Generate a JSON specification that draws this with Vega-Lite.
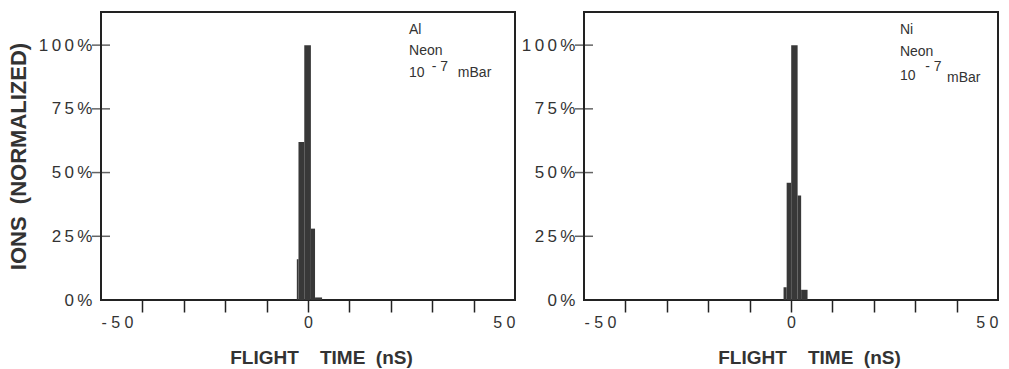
{
  "$schema": "https://vega.github.io/schema/vega-lite/v6.json",
  "background": "white",
  "padding": {"left": 6, "top": 11, "right": 5, "bottom": 0},
  "spacing": 4,
  "config": {
    "view": {"stroke": "#222", "strokeWidth": 2},
    "font": "Liberation Sans",
    "axis": {"grid": false, "domain": false, "labelColor": "#333", "titleColor": "#333", "tickColor": "#222"}
  },
  "datasets": {
    "al_bins": [
      {"start": -2.7, "end": -2.3, "ions": 16},
      {"start": -2.3, "end": -0.9, "ions": 62},
      {"start": -0.9, "end": 0.7, "ions": 100},
      {"start": 0.7, "end": 1.7, "ions": 28},
      {"start": 1.7, "end": 3.4, "ions": 1}
    ],
    "ni_bins": [
      {"start": -1.8, "end": -1.05, "ions": 5},
      {"start": -1.05, "end": 0.05, "ions": 46},
      {"start": 0.05, "end": 1.6, "ions": 100},
      {"start": 1.6, "end": 2.45, "ions": 41},
      {"start": 2.45, "end": 4.0, "ions": 4}
    ],
    "al_info": [{"element": "Al", "gas": "Neon", "base": "10", "exponent": "- 7", "unit": "mBar"}],
    "ni_info": [{"element": "Ni", "gas": "Neon", "base": "10", "exponent": "- 7", "unit": "mBar"}],
    "y_ticks": [{"ions": 25}, {"ions": 50}, {"ions": 75}, {"ions": 100}]
  },
  "hconcat": [
    {
      "width": 414,
      "height": 288,
      "layer": [
        {
          "data": {"name": "al_bins"},
          "mark": {"type": "rect", "color": "#383838"},
          "encoding": {
            "x": {
              "field": "start", "type": "quantitative",
              "scale": {"domain": [-50, 50], "nice": false},
              "axis": {
                "values": [-50, -40, -30, -20, -10, 0, 10, 20, 30, 40, 50],
                "labelExpr": "datum.value == -50 ? '- 5 0' : datum.value == 0 ? '0' : datum.value == 50 ? '5 0' : ''",
                "labelFlush": true, "labelOverlap": false,
                "labelFontSize": 16, "labelPadding": 2,
                "tickSize": 12, "tickWidth": 1.5,
                "tickOpacity": {"condition": {"test": "abs(datum.value) == 50", "value": 0}, "value": 1},
                "title": "FLIGHT\u00a0\u00a0\u00a0\u00a0TIME\u00a0\u00a0(nS)", "titleFontSize": 19, "titleFontWeight": "bold",
                "titlePadding": 18, "titleX": 220
              }
            },
            "x2": {"field": "end"},
            "y": {
              "field": "ions", "type": "quantitative",
              "scale": {"domain": [0, 113], "nice": false},
              "axis": {
                "values": [0, 25, 50, 75, 100],
                "labelExpr": "datum.value == 100 ? '1\u20090\u20090\u2009%' : datum.value == 75 ? '7\u20095\u2009%' : datum.value == 50 ? '5\u20090\u2009%' : datum.value == 25 ? '2\u20095\u2009%' : '0\u2009%'",
                "labelFontSize": 17, "labelPadding": 9, "ticks": false,
                "title": "IONS\u00a0\u00a0(NORMALIZED)", "titleFontSize": 22, "titleFontWeight": "bold", "titlePadding": 8
              }
            },
            "y2": {"datum": 0}
          }
        },
        {
          "data": {"name": "y_ticks"},
          "mark": {"type": "tick", "orient": "horizontal", "size": 18, "thickness": 1.5, "color": "#222"},
          "encoding": {
            "x": {"datum": -50, "type": "quantitative"},
            "y": {"field": "ions", "type": "quantitative"}
          }
        },
        {
          "data": {"name": "al_info"},
          "mark": {"type": "text", "align": "left", "baseline": "alphabetic", "fontSize": 14, "color": "#333"},
          "encoding": {"x": {"datum": 24.4, "type": "quantitative"}, "y": {"datum": 104.2, "type": "quantitative"}, "text": {"field": "element"}}
        },
        {
          "data": {"name": "al_info"},
          "mark": {"type": "text", "align": "left", "baseline": "alphabetic", "fontSize": 14, "color": "#333"},
          "encoding": {"x": {"datum": 24.4, "type": "quantitative"}, "y": {"datum": 96.1, "type": "quantitative"}, "text": {"field": "gas"}}
        },
        {
          "data": {"name": "al_info"},
          "mark": {"type": "text", "align": "left", "baseline": "alphabetic", "fontSize": 14, "color": "#333"},
          "encoding": {"x": {"datum": 24.4, "type": "quantitative"}, "y": {"datum": 87.5, "type": "quantitative"}, "text": {"field": "base"}}
        },
        {
          "data": {"name": "al_info"},
          "mark": {"type": "text", "align": "left", "baseline": "alphabetic", "fontSize": 14, "color": "#333"},
          "encoding": {"x": {"datum": 29.9, "type": "quantitative"}, "y": {"datum": 89.8, "type": "quantitative"}, "text": {"field": "exponent"}}
        },
        {
          "data": {"name": "al_info"},
          "mark": {"type": "text", "align": "left", "baseline": "alphabetic", "fontSize": 14, "color": "#333"},
          "encoding": {"x": {"datum": 36.2, "type": "quantitative"}, "y": {"datum": 87.5, "type": "quantitative"}, "text": {"field": "unit"}}
        }
      ]
    },
    {
      "width": 414,
      "height": 288,
      "layer": [
        {
          "data": {"name": "ni_bins"},
          "mark": {"type": "rect", "color": "#383838"},
          "encoding": {
            "x": {
              "field": "start", "type": "quantitative",
              "scale": {"domain": [-50, 50], "nice": false},
              "axis": {
                "values": [-50, -40, -30, -20, -10, 0, 10, 20, 30, 40, 50],
                "labelExpr": "datum.value == -50 ? '- 5 0' : datum.value == 0 ? '0' : datum.value == 50 ? '5 0' : ''",
                "labelFlush": true, "labelOverlap": false,
                "labelFontSize": 16, "labelPadding": 2,
                "tickSize": 12, "tickWidth": 1.5,
                "tickOpacity": {"condition": {"test": "abs(datum.value) == 50", "value": 0}, "value": 1},
                "title": "FLIGHT\u00a0\u00a0\u00a0\u00a0TIME\u00a0\u00a0(nS)", "titleFontSize": 19, "titleFontWeight": "bold",
                "titlePadding": 18, "titleX": 225
              }
            },
            "x2": {"field": "end"},
            "y": {
              "field": "ions", "type": "quantitative",
              "scale": {"domain": [0, 113], "nice": false},
              "axis": {
                "values": [0, 25, 50, 75, 100],
                "labelExpr": "datum.value == 100 ? '1\u20090\u20090\u2009%' : datum.value == 75 ? '7\u20095\u2009%' : datum.value == 50 ? '5\u20090\u2009%' : datum.value == 25 ? '2\u20095\u2009%' : '0\u2009%'",
                "labelFontSize": 17, "labelPadding": 9, "ticks": false,
                "title": null
              }
            },
            "y2": {"datum": 0}
          }
        },
        {
          "data": {"name": "y_ticks"},
          "mark": {"type": "tick", "orient": "horizontal", "size": 18, "thickness": 1.5, "color": "#222"},
          "encoding": {
            "x": {"datum": -50, "type": "quantitative"},
            "y": {"field": "ions", "type": "quantitative"}
          }
        },
        {
          "data": {"name": "ni_info"},
          "mark": {"type": "text", "align": "left", "baseline": "alphabetic", "fontSize": 14, "color": "#333"},
          "encoding": {"x": {"datum": 26.3, "type": "quantitative"}, "y": {"datum": 104.2, "type": "quantitative"}, "text": {"field": "element"}}
        },
        {
          "data": {"name": "ni_info"},
          "mark": {"type": "text", "align": "left", "baseline": "alphabetic", "fontSize": 14, "color": "#333"},
          "encoding": {"x": {"datum": 26.3, "type": "quantitative"}, "y": {"datum": 95.7, "type": "quantitative"}, "text": {"field": "gas"}}
        },
        {
          "data": {"name": "ni_info"},
          "mark": {"type": "text", "align": "left", "baseline": "alphabetic", "fontSize": 14, "color": "#333"},
          "encoding": {"x": {"datum": 26.3, "type": "quantitative"}, "y": {"datum": 86.3, "type": "quantitative"}, "text": {"field": "base"}}
        },
        {
          "data": {"name": "ni_info"},
          "mark": {"type": "text", "align": "left", "baseline": "alphabetic", "fontSize": 14, "color": "#333"},
          "encoding": {"x": {"datum": 32.4, "type": "quantitative"}, "y": {"datum": 89.8, "type": "quantitative"}, "text": {"field": "exponent"}}
        },
        {
          "data": {"name": "ni_info"},
          "mark": {"type": "text", "align": "left", "baseline": "alphabetic", "fontSize": 14, "color": "#333"},
          "encoding": {"x": {"datum": 37.7, "type": "quantitative"}, "y": {"datum": 85.5, "type": "quantitative"}, "text": {"field": "unit"}}
        }
      ]
    }
  ]
}
